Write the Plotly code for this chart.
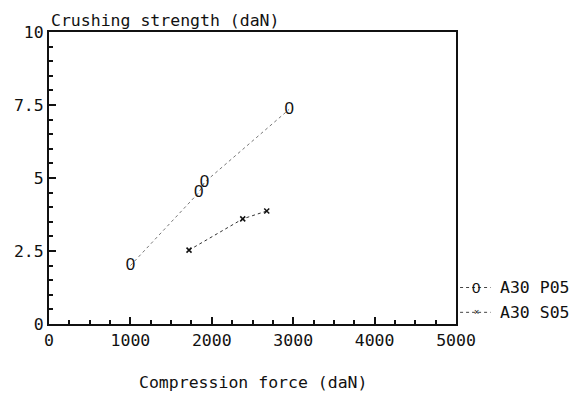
import plotly.graph_objects as go

# Data
p05_force = [1000, 1840, 1910, 2950]
p05_strength = [2.0, 4.5, 4.85, 7.35]
s05_force = [1720, 2380, 2675]
s05_strength = [2.53, 3.6, 3.87]

x_ticks = [0, 1000, 2000, 3000, 4000, 5000]
x_tick_labels = ["0", "1000", "2000", "3000", "4000", "5000"]
y_ticks = [0, 2.5, 5, 7.5, 10]
y_tick_labels = ["0", "2.5", "5", "7.5", "10"]

series_names = ["A30 P05", "A30 S05"]

FONT = "DejaVu Sans Mono"
MARK_FONT = "Liberation Sans"
FS = 16.5
INK = "#111111"

fig = go.Figure()

fig.add_trace(go.Scatter(
    x=p05_force, y=p05_strength, mode="lines+text",
    text=["0"] * len(p05_force), textposition="middle center",
    textfont=dict(family=MARK_FONT, size=17, color=INK),
    line=dict(color="#777777", width=1, dash="dot"),
    name=series_names[0], showlegend=False,
))
fig.add_trace(go.Scatter(
    x=s05_force, y=s05_strength, mode="lines+markers",
    marker=dict(symbol="x-thin", size=5, line=dict(width=1.5, color=INK), color=INK),
    line=dict(color="#333333", width=1, dash="dot"),
    name=series_names[1], showlegend=False,
))

# Manual legend (plotter style) to the right of the plot
legend_y = [0.125, 0.04]
for i, (name, ly) in enumerate(zip(series_names, legend_y)):
    fig.add_shape(type="line", xref="paper", yref="paper",
                  x0=1.01, x1=1.085, y0=ly, y1=ly,
                  line=dict(color="#444444", width=1, dash="dot"))
    fig.add_annotation(xref="paper", yref="paper", x=1.05, y=ly,
                       text="0" if i == 0 else "×", showarrow=False,
                       font=dict(family=MARK_FONT, size=15 if i == 0 else 9, color=INK),
                       xanchor="center", yanchor="middle")
    fig.add_annotation(xref="paper", yref="paper", x=1.103, y=ly,
                       text=name, showarrow=False,
                       font=dict(family=FONT, size=FS, color=INK),
                       xanchor="left", yanchor="middle")

fig.add_annotation(xref="paper", yref="paper", x=0.0, y=1.0, yshift=0,
                   text="Crushing strength (daN)", showarrow=False,
                   font=dict(family=FONT, size=FS, color=INK),
                   xanchor="left", yanchor="bottom")
fig.add_annotation(xref="paper", yref="paper", x=0.5, y=-0.202,
                   text="Compression force (daN)", showarrow=False,
                   font=dict(family=FONT, size=FS, color=INK),
                   xanchor="center", yanchor="middle")

fig.update_xaxes(
    range=[0, 5000], tickvals=x_ticks, ticktext=x_tick_labels,
    ticks="inside", ticklen=7, tickwidth=1.5, tickcolor=INK,
    minor=dict(dtick=250, ticks="inside", ticklen=4, tickcolor=INK),
    showline=True, linecolor=INK, linewidth=2, mirror=True,
    showgrid=False, zeroline=False, automargin=False,
    tickfont=dict(family=FONT, size=FS, color=INK),
)
fig.update_yaxes(
    range=[0, 10], tickvals=y_ticks, ticktext=y_tick_labels,
    ticks="inside", ticklen=7, tickwidth=1.5, tickcolor=INK,
    minor=dict(dtick=0.5, ticks="inside", ticklen=4, tickcolor=INK),
    showline=True, linecolor=INK, linewidth=2, mirror=True,
    showgrid=False, zeroline=False, automargin=False,
    tickfont=dict(family=FONT, size=FS, color=INK),
)

fig.update_layout(
    width=575, height=393,
    margin=dict(l=49, r=119, t=32, b=69),
    plot_bgcolor="white", paper_bgcolor="white",
    showlegend=False,
)

fig.write_html("out.html")
